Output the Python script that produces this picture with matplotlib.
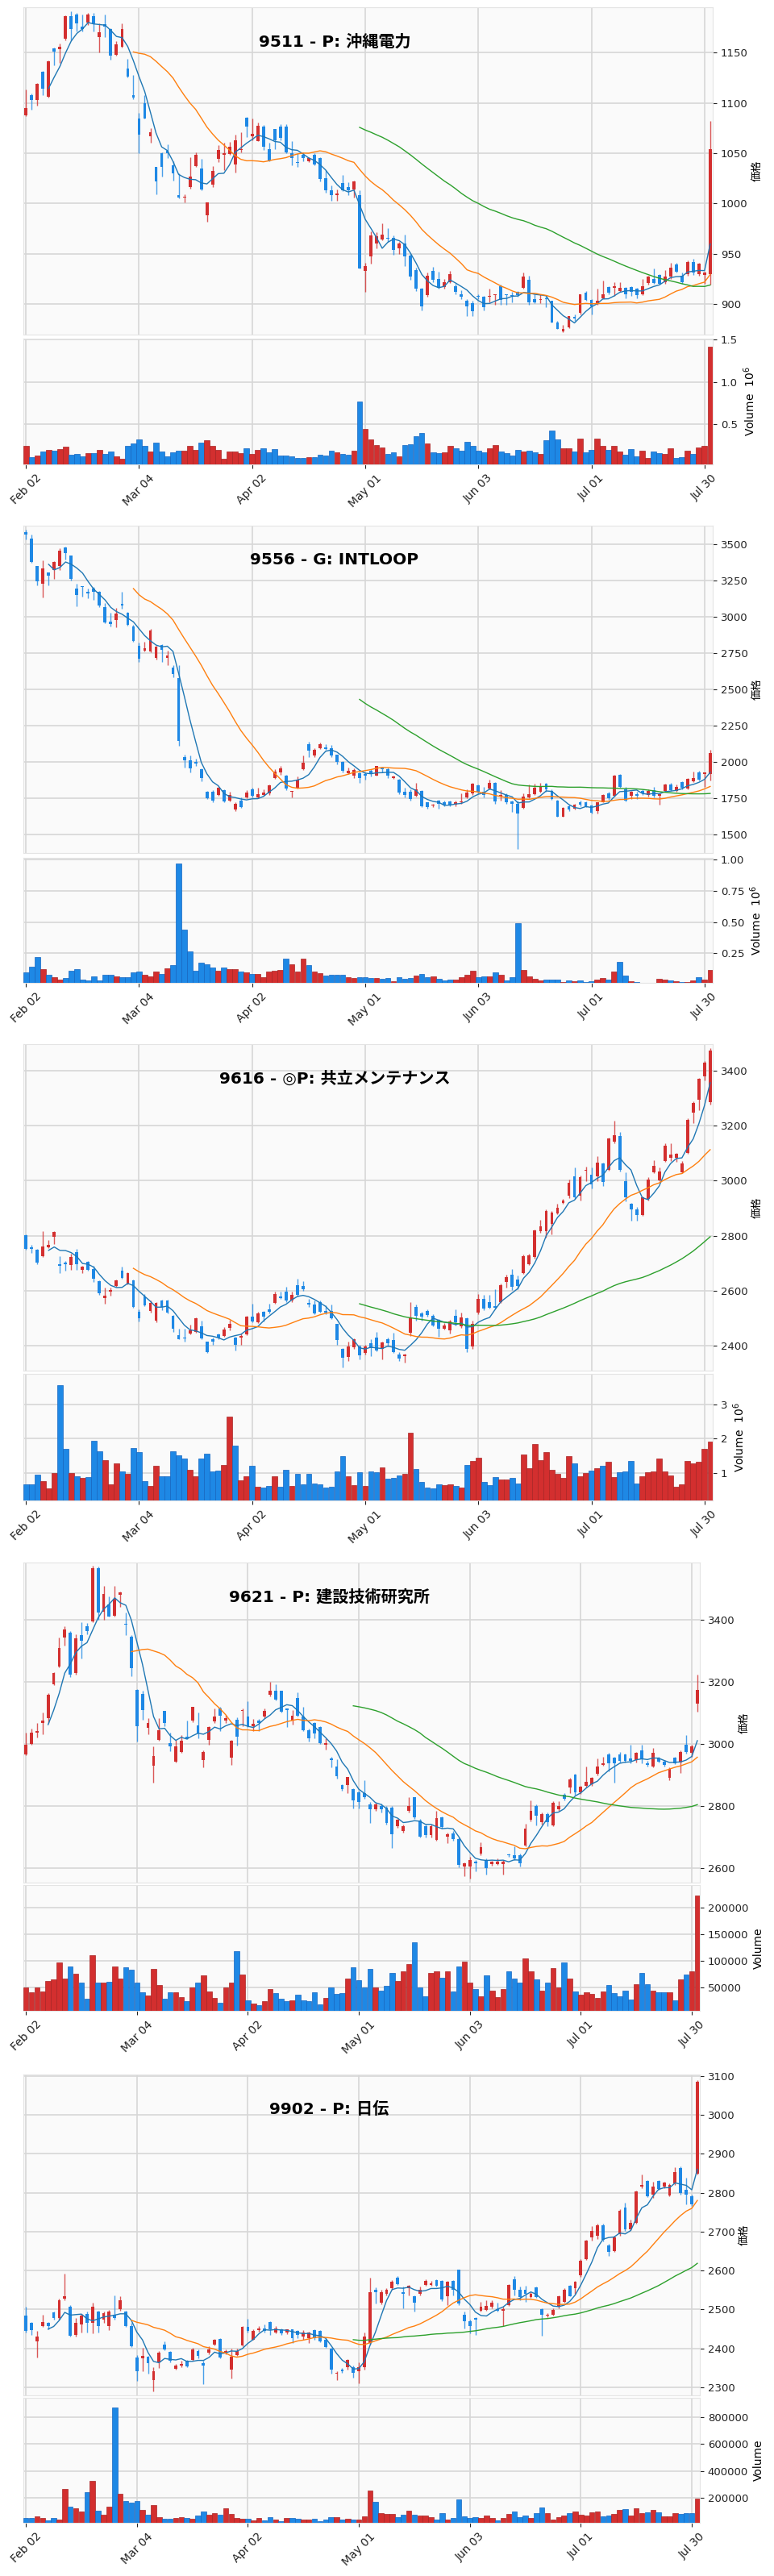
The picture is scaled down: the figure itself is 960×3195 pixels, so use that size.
import numpy as np
import pandas as pd
import matplotlib
matplotlib.use("Agg")
import matplotlib.pyplot as plt

plt.rcParams["font.family"] = ["DejaVu Sans", "Noto Sans CJK JP"]

DATE_POS = [0, 20, 40, 60, 80, 100, 120]
DATE_LABELS = ["Feb 02", "Mar 04", "Apr 02", "May 01", "Jun 03", "Jul 01", "Jul 30"]

# ---- 9511 沖縄電力 (volume in thousands of shares)
O_9511 = [1088, 1108, 1103, 1131, 1106, 1154, 1153, 1164, 1186, 1188, 1176, 1180, 1186, 1165, 1178, 1173, 1148, 1156, 1134, 1108,
          1084, 1100, 1067, 1036, 1050, 1052, 1038, 1008, 1006, 1016, 1037, 1035, 988, 1019, 1044, 1048, 1049, 1039, 1053, 1085,
          1067, 1062, 1076, 1054, 1074, 1076, 1076, 1050, 1041, 1048, 1042, 1048, 1045, 1025, 1013, 1008, 1020, 1016, 1014, 1008,
          933, 947, 960, 964, 966, 966, 955, 960, 948, 934, 915, 909, 933, 925, 917, 922, 918, 910, 903, 901,
          908, 907, 907, 909, 918, 910, 909, 912, 916, 924, 905, 904, 906, 903, 882, 873, 877, 887, 891, 911,
          904, 900, 906, 917, 916, 913, 916, 917, 915, 910, 921, 925, 929, 922, 927, 939, 928, 930, 942, 930, 929, 930]
H_9511 = [1113, 1109, 1120, 1132, 1142, 1155, 1159, 1187, 1191, 1189, 1188, 1189, 1189, 1179, 1188, 1174, 1161, 1179, 1144, 1128,
          1090, 1108, 1075, 1036, 1051, 1059, 1042, 1030, 1009, 1046, 1051, 1044, 1001, 1037, 1058, 1060, 1061, 1068, 1071, 1086,
          1084, 1080, 1078, 1060, 1074, 1079, 1079, 1062, 1050, 1051, 1046, 1050, 1046, 1033, 1018, 1014, 1028, 1021, 1023, 1013,
          941, 972, 971, 980, 975, 968, 962, 969, 950, 936, 916, 931, 937, 932, 925, 933, 920, 914, 905, 903,
          910, 908, 915, 910, 919, 910, 912, 913, 931, 928, 910, 910, 908, 903, 883, 879, 888, 890, 910, 913,
          905, 915, 923, 918, 922, 922, 917, 918, 916, 925, 928, 935, 930, 934, 941, 941, 931, 943, 945, 941, 932, 1082]
L_9511 = [1087, 1093, 1097, 1108, 1105, 1137, 1140, 1162, 1162, 1171, 1171, 1177, 1171, 1150, 1165, 1143, 1147, 1155, 1125, 1104,
          1050, 1084, 1060, 1009, 1027, 1045, 1023, 1005, 1001, 1015, 1036, 1013, 982, 1016, 1041, 1033, 1048, 1031, 1051, 1066,
          1063, 1062, 1053, 1042, 1054, 1063, 1050, 1038, 1036, 1042, 1041, 1038, 1022, 1011, 1003, 1003, 1012, 1008, 1006, 935,
          912, 940, 955, 963, 962, 949, 950, 938, 924, 913, 894, 907, 922, 915, 915, 921, 910, 905, 888, 888,
          905, 894, 902, 899, 899, 899, 902, 907, 915, 899, 901, 901, 897, 882, 875, 872, 876, 883, 890, 903,
          890, 899, 906, 910, 908, 912, 906, 908, 906, 909, 919, 920, 919, 920, 925, 931, 920, 928, 929, 928, 920, 919]
C_9511 = [1095, 1103, 1119, 1114, 1141, 1151, 1156, 1186, 1173, 1179, 1173, 1188, 1179, 1170, 1176, 1147, 1158, 1173, 1126, 1105,
          1068, 1084, 1071, 1022, 1036, 1050, 1030, 1006, 1007, 1027, 1048, 1014, 1001, 1032, 1053, 1050, 1056, 1063, 1054, 1076,
          1069, 1077, 1056, 1043, 1063, 1065, 1051, 1045, 1040, 1045, 1045, 1039, 1024, 1013, 1008, 1010, 1013, 1013, 1022, 935,
          938, 968, 967, 969, 965, 954, 960, 947, 927, 915, 898, 928, 924, 916, 922, 930, 912, 907, 898, 893,
          907, 897, 908, 910, 904, 909, 908, 909, 927, 902, 902, 905, 905, 882, 875, 875, 888, 886, 910, 904,
          898, 903, 910, 911, 918, 916, 910, 912, 909, 918, 927, 921, 920, 927, 936, 932, 922, 942, 931, 940, 931, 1054]
V_9511 = [241, 108, 136, 178, 196, 189, 203, 238, 143, 150, 119, 161, 161, 196, 154, 178, 126, 91, 248, 276,
          325, 248, 178, 283, 178, 126, 168, 189, 189, 248, 196, 283, 311, 248, 196, 91, 178, 178, 161, 220,
          150, 196, 213, 171, 203, 133, 133, 119, 101, 101, 108, 115, 143, 136, 185, 168, 150, 140, 189, 773,
          441, 318, 255, 224, 154, 168, 119, 255, 266, 364, 395, 273, 168, 161, 171, 241, 213, 189, 290, 248,
          185, 168, 220, 255, 178, 161, 136, 196, 178, 189, 168, 150, 308, 423, 318, 220, 220, 178, 329, 171,
          196, 329, 248, 196, 241, 178, 143, 206, 119, 185, 101, 178, 161, 154, 220, 101, 115, 185, 154, 231, 241, 1413]

# ---- 9556 INTLOOP
O_9556 = [3582, 3541, 3350, 3227, 3305, 3322, 3350, 3479, 3422, 3198, 3211, 3172, 3198, 3172, 3069, 2967, 2977, 3090, 3028, 2936,
          2803, 2768, 2762, 2721, 2809, 2719, 2653, 2577, 2038, 2013, 2001, 1951, 1798, 1798, 1777, 1808, 1736, 1675, 1736, 1757,
          1812, 1757, 1777, 1788, 1894, 1931, 1906, 1796, 1824, 1951, 2126, 2044, 2095, 2105, 2095, 2050, 2003, 1927, 1910, 1927,
          1921, 1941, 1910, 1962, 1951, 1890, 1880, 1798, 1798, 1767, 1804, 1722, 1700, 1736, 1722, 1730, 1710, 1722, 1757, 1788,
          1839, 1798, 1818, 1859, 1763, 1777, 1730, 1716, 1685, 1757, 1783, 1798, 1853, 1804, 1736, 1627, 1695, 1681, 1722, 1726,
          1701, 1664, 1726, 1788, 1767, 1914, 1812, 1771, 1783, 1804, 1777, 1808, 1771, 1804, 1849, 1804, 1863, 1818, 1869, 1931, 1921, 1921]
H_9556 = [3600, 3568, 3352, 3391, 3309, 3383, 3473, 3484, 3426, 3227, 3211, 3198, 3207, 3182, 3096, 3028, 3063, 3172, 3034, 2946,
          2823, 2829, 2920, 2803, 2813, 2768, 2669, 2669, 2054, 2044, 2023, 1956, 1804, 1808, 1833, 1812, 1798, 1722, 1757, 1808,
          1824, 1824, 1812, 1849, 1951, 1972, 1915, 1800, 1900, 2044, 2140, 2099, 2136, 2126, 2120, 2054, 2009, 1962, 1956, 1935,
          1931, 1951, 1976, 1962, 1962, 1910, 1886, 1824, 1812, 1859, 1808, 1726, 1716, 1742, 1736, 1736, 1736, 1785, 1812, 1859,
          1849, 1833, 1880, 1865, 1808, 1788, 1736, 1736, 1788, 1849, 1853, 1859, 1859, 1812, 1742, 1689, 1710, 1716, 1736, 1730,
          1706, 1726, 1783, 1798, 1914, 1921, 1828, 1804, 1798, 1812, 1812, 1828, 1788, 1853, 1859, 1849, 1869, 1890, 1935, 1941, 1931, 2085]
L_9556 = [3535, 3371, 3219, 3137, 3219, 3260, 3326, 3397, 3250, 3075, 3141, 3131, 3116, 3070, 2957, 2936, 2932, 3055, 2940, 2829,
          2690, 2762, 2756, 2707, 2690, 2669, 2588, 2116, 1962, 1931, 1972, 1870, 1746, 1722, 1767, 1722, 1730, 1661, 1685, 1750,
          1757, 1750, 1767, 1777, 1886, 1915, 1808, 1757, 1818, 1947, 2038, 2038, 2091, 2085, 2034, 1988, 1931, 1921, 1890, 1859,
          1880, 1900, 1906, 1931, 1890, 1886, 1783, 1757, 1736, 1763, 1689, 1681, 1689, 1681, 1695, 1695, 1695, 1716, 1750, 1777,
          1788, 1757, 1812, 1716, 1736, 1716, 1660, 1402, 1681, 1750, 1777, 1792, 1798, 1742, 1623, 1623, 1664, 1675, 1695, 1689,
          1648, 1648, 1722, 1742, 1763, 1824, 1730, 1746, 1746, 1777, 1763, 1757, 1710, 1798, 1804, 1798, 1812, 1812, 1865, 1874, 1833, 1874]
C_9556 = [3568, 3377, 3248, 3336, 3285, 3377, 3459, 3438, 3260, 3151, 3207, 3165, 3172, 3080, 2961, 2953, 3022, 3080, 2946, 2833,
          2714, 2786, 2905, 2797, 2772, 2735, 2608, 2146, 2013, 1956, 1993, 1890, 1750, 1736, 1824, 1730, 1777, 1716, 1689, 1792,
          1767, 1783, 1792, 1839, 1935, 1956, 1818, 1800, 1880, 1997, 2079, 2085, 2126, 2091, 2044, 2003, 1941, 1941, 1947, 1890,
          1906, 1921, 1972, 1952, 1906, 1900, 1792, 1777, 1746, 1812, 1695, 1689, 1710, 1716, 1706, 1706, 1726, 1730, 1792, 1853,
          1798, 1777, 1859, 1730, 1777, 1726, 1716, 1648, 1763, 1781, 1824, 1833, 1812, 1746, 1627, 1685, 1675, 1710, 1710, 1695,
          1654, 1722, 1777, 1750, 1906, 1833, 1736, 1798, 1771, 1788, 1804, 1767, 1783, 1845, 1808, 1828, 1824, 1886, 1890, 1880, 1931, 2064]
V_9556 = [100, 143, 221, 126, 75, 58, 41, 53, 107, 124, 39, 32, 63, 34, 75, 75, 66, 56, 56, 95,
          102, 78, 68, 102, 87, 129, 153, 973, 439, 265, 107, 175, 163, 138, 107, 136, 124, 124, 102, 100,
          83, 83, 58, 102, 107, 114, 206, 163, 102, 206, 155, 102, 90, 70, 78, 78, 75, 58, 53, 58,
          56, 51, 49, 46, 53, 27, 58, 46, 49, 70, 83, 58, 63, 46, 34, 41, 41, 58, 75, 109,
          58, 63, 63, 95, 78, 34, 58, 493, 119, 66, 46, 34, 39, 39, 41, 22, 34, 27, 34, 22,
          27, 39, 51, 39, 104, 184, 70, 29, 22, 15, 15, 15, 46, 39, 34, 27, 22, 22, 34, 58, 41, 119]

# ---- 9616 共立メンテナンス
O_9616 = [2802, 2759, 2750, 2726, 2759, 2795, 2696, 2703, 2694, 2741, 2677, 2705, 2680, 2636, 2574, 2598, 2618, 2674, 2625, 2638,
          2525, 2579, 2528, 2492, 2566, 2566, 2509, 2438, 2430, 2444, 2452, 2470, 2414, 2425, 2441, 2436, 2466, 2430, 2430, 2441,
          2506, 2485, 2525, 2533, 2557, 2579, 2596, 2564, 2620, 2618, 2557, 2550, 2560, 2528, 2528, 2479, 2390, 2360, 2395, 2398,
          2373, 2409, 2430, 2390, 2425, 2420, 2368, 2362, 2449, 2542, 2517, 2528, 2509, 2495, 2463, 2455, 2509, 2470, 2499, 2398,
          2520, 2571, 2560, 2544, 2560, 2633, 2658, 2642, 2665, 2698, 2723, 2817, 2817, 2842, 2882, 2918, 2945, 3016, 2945, 3035,
          3021, 3015, 3062, 3040, 3142, 3162, 2999, 2915, 2896, 2875, 2934, 3029, 3001, 3070, 3084, 3084, 3029, 3102, 3246, 3294, 3380, 3286]
H_9616 = [2804, 2766, 2752, 2817, 2785, 2817, 2726, 2707, 2734, 2752, 2690, 2709, 2690, 2638, 2611, 2611, 2641, 2687, 2668, 2641,
          2533, 2587, 2564, 2560, 2568, 2568, 2511, 2463, 2463, 2477, 2503, 2492, 2416, 2431, 2444, 2468, 2495, 2433, 2444, 2509,
          2553, 2523, 2528, 2553, 2596, 2596, 2614, 2596, 2644, 2636, 2571, 2566, 2566, 2546, 2550, 2481, 2392, 2414, 2427, 2405,
          2403, 2423, 2452, 2414, 2431, 2449, 2376, 2371, 2560, 2550, 2525, 2533, 2514, 2498, 2482, 2495, 2533, 2520, 2503, 2492,
          2587, 2585, 2585, 2607, 2625, 2658, 2680, 2655, 2733, 2736, 2823, 2858, 2896, 2891, 2915, 2935, 3005, 3048, 3018, 3051,
          3048, 3088, 3066, 3157, 3218, 3178, 3030, 2918, 2904, 2943, 3012, 3075, 3048, 3137, 3135, 3102, 3070, 3227, 3289, 3373, 3434, 3481]
L_9616 = [2750, 2739, 2698, 2724, 2756, 2770, 2665, 2674, 2676, 2676, 2665, 2674, 2633, 2585, 2553, 2582, 2615, 2644, 2622, 2539,
          2490, 2544, 2520, 2485, 2531, 2517, 2452, 2423, 2414, 2441, 2449, 2423, 2373, 2403, 2425, 2433, 2455, 2384, 2405, 2438,
          2485, 2482, 2488, 2517, 2553, 2571, 2560, 2560, 2579, 2601, 2542, 2514, 2520, 2514, 2496, 2403, 2322, 2344, 2390, 2351,
          2368, 2362, 2379, 2351, 2398, 2373, 2344, 2338, 2436, 2492, 2492, 2506, 2471, 2433, 2460, 2444, 2474, 2466, 2376, 2390,
          2514, 2531, 2536, 2536, 2557, 2612, 2603, 2607, 2661, 2693, 2717, 2812, 2793, 2806, 2878, 2915, 2937, 2934, 2929, 2999,
          2973, 2999, 2980, 3037, 3137, 3034, 2924, 2856, 2856, 2872, 2929, 3026, 2999, 3067, 3070, 3067, 3026, 3097, 3208, 3257, 3365, 3275]
C_9616 = [2752, 2753, 2701, 2761, 2768, 2813, 2691, 2698, 2723, 2696, 2688, 2677, 2644, 2590, 2583, 2604, 2638, 2647, 2663, 2542,
          2501, 2546, 2557, 2557, 2542, 2520, 2463, 2425, 2427, 2457, 2501, 2427, 2376, 2414, 2430, 2460, 2479, 2403, 2436, 2506,
          2488, 2517, 2506, 2523, 2587, 2574, 2566, 2585, 2585, 2607, 2550, 2517, 2523, 2520, 2499, 2420, 2358, 2398, 2423, 2365,
          2398, 2392, 2384, 2412, 2409, 2376, 2355, 2368, 2503, 2509, 2506, 2512, 2474, 2463, 2474, 2490, 2485, 2503, 2390, 2481,
          2571, 2535, 2539, 2539, 2620, 2650, 2615, 2618, 2726, 2730, 2820, 2834, 2891, 2885, 2902, 2929, 2991, 2940, 3012, 3038,
          2986, 3066, 2994, 3153, 3164, 3040, 2940, 2896, 2875, 2940, 3005, 3053, 3032, 3127, 3094, 3097, 3064, 3221, 3283, 3370, 3430, 3474]
V_9616 = [680, 680, 940, 770, 540, 1000, 3560, 1690, 1000, 910, 850, 880, 1940, 1630, 1370, 680, 1270, 1040, 970, 1730,
          1600, 770, 620, 1200, 900, 910, 1640, 1520, 1410, 1090, 900, 1430, 1570, 1050, 1070, 1240, 2630, 1790, 790, 900,
          1200, 600, 580, 620, 910, 600, 1100, 620, 980, 670, 980, 700, 660, 570, 590, 1040, 1500, 910, 640, 1030,
          620, 1040, 1010, 1170, 840, 850, 920, 980, 2170, 1110, 740, 570, 550, 670, 640, 660, 620, 570, 1220, 1340,
          1440, 730, 640, 870, 810, 810, 850, 700, 1540, 1140, 1840, 1370, 1610, 1090, 970, 850, 1480, 1270, 910, 1000,
          1070, 1140, 1210, 1330, 870, 1030, 1050, 1360, 700, 900, 1030, 1050, 1430, 1050, 920, 610, 660, 1340, 1280, 1330, 1690, 1900]

# ---- 9621 建設技術研究所
O_9621 = [2966, 3000, 3036, 3069, 3084, 3194, 3249, 3343, 3360, 3228, 3350, 3381, 3395, 3568, 3427, 3451, 3414, 3480, 3388, 3347,
          3175, 3161, 3053, 2930, 3014, 3106, 3002, 2944, 2976, 3024, 3075, 3060, 2950, 3014, 3074, 3115, 3077, 2957, 3079, 3106,
          3088, 3059, 3075, 3088, 3158, 3171, 3171, 3115, 3077, 3149, 3088, 3046, 3069, 3055, 2998, 2955, 2928, 2868, 2868, 2856,
          2845, 2842, 2806, 2791, 2800, 2796, 2796, 2735, 2720, 2785, 2828, 2754, 2735, 2706, 2692, 2764, 2701, 2713, 2695, 2605,
          2605, 2621, 2648, 2626, 2614, 2614, 2614, 2645, 2642, 2642, 2674, 2756, 2801, 2748, 2775, 2738, 2790, 2838, 2860, 2902,
          2844, 2865, 2870, 2904, 2934, 2968, 2957, 2968, 2968, 2955, 2950, 2981, 2939, 2928, 2955, 2944, 2891, 2957, 2942, 2997, 2971, 3130]
H_9621 = [3038, 3050, 3067, 3101, 3163, 3232, 3343, 3379, 3363, 3355, 3393, 3391, 3574, 3571, 3510, 3475, 3510, 3491, 3424, 3350,
          3178, 3173, 3084, 2992, 3084, 3108, 3036, 3014, 3028, 3075, 3120, 3101, 2981, 3059, 3115, 3120, 3094, 3014, 3086, 3115,
          3139, 3082, 3082, 3115, 3200, 3194, 3173, 3115, 3110, 3168, 3120, 3050, 3072, 3059, 3019, 2960, 2952, 2871, 2895, 2858,
          2849, 2885, 2813, 2812, 2808, 2800, 2800, 2760, 2740, 2830, 2830, 2758, 2740, 2740, 2786, 2768, 2715, 2720, 2700, 2620,
          2636, 2626, 2685, 2632, 2625, 2632, 2626, 2648, 2670, 2648, 2743, 2818, 2806, 2780, 2780, 2815, 2817, 2842, 2891, 2904,
          2866, 2929, 2895, 2955, 2960, 2971, 2960, 2975, 2970, 2997, 2975, 2997, 2946, 2987, 2960, 2950, 2925, 2960, 2980, 3030, 2999, 3225]
L_9621 = [2964, 2998, 3021, 3031, 3067, 3190, 3247, 3317, 3216, 3225, 3276, 3355, 3393, 3401, 3401, 3410, 3410, 3441, 3350, 3219,
          3009, 3079, 3031, 2875, 3011, 3058, 2978, 2942, 2973, 3017, 3072, 3019, 2925, 2998, 3067, 3041, 3067, 2933, 2995, 3058,
          3055, 3042, 3042, 3084, 3153, 3142, 3101, 3056, 3062, 3089, 3043, 3009, 3019, 3001, 2983, 2925, 2889, 2849, 2842, 2794,
          2794, 2825, 2746, 2785, 2780, 2740, 2665, 2730, 2715, 2780, 2760, 2700, 2700, 2700, 2690, 2728, 2680, 2690, 2603, 2575,
          2568, 2590, 2642, 2580, 2608, 2610, 2580, 2638, 2628, 2605, 2670, 2752, 2738, 2740, 2735, 2735, 2786, 2818, 2841, 2838,
          2840, 2860, 2865, 2900, 2930, 2912, 2876, 2940, 2942, 2938, 2940, 2938, 2928, 2925, 2940, 2928, 2885, 2935, 2908, 2970, 2960, 3105]
C_9621 = [2998, 3036, 3043, 3077, 3160, 3230, 3309, 3369, 3225, 3341, 3334, 3365, 3568, 3424, 3484, 3412, 3468, 3489, 3384, 3245,
          3059, 3110, 3069, 2962, 3046, 3069, 2992, 2992, 3011, 3019, 3120, 3034, 2976, 3055, 3089, 3091, 3084, 3010, 3024, 3110,
          3059, 3065, 3067, 3106, 3171, 3144, 3104, 3110, 3091, 3091, 3046, 3019, 3034, 3004, 3004, 2950, 2896, 2854, 2893, 2818,
          2813, 2829, 2791, 2806, 2790, 2745, 2711, 2756, 2735, 2801, 2764, 2703, 2706, 2735, 2762, 2733, 2711, 2695, 2610, 2616,
          2626, 2616, 2669, 2600, 2621, 2621, 2621, 2642, 2632, 2616, 2727, 2786, 2770, 2775, 2748, 2812, 2801, 2823, 2886, 2844,
          2862, 2879, 2891, 2928, 2939, 2939, 2939, 2946, 2946, 2946, 2971, 2955, 2934, 2971, 2944, 2934, 2921, 2939, 2976, 2974, 2992, 3175]
V_9621 = [50.6, 41.8, 50, 42.3, 62.6, 64.8, 96.7, 66.5, 89, 76.4, 58.8, 29.7, 111, 59.9, 59.9, 61, 90.1, 66.5, 88.5, 83,
          58.8, 40.7, 35.2, 84.6, 55.5, 28.6, 41.8, 40.7, 32.4, 24.2, 50.6, 58.8, 72.5, 43.4, 30.8, 22.5, 50.6, 58.8, 119, 74.7,
          26.4, 19.8, 17.6, 25.3, 47.8, 39.6, 29.7, 25.3, 26.9, 36.8, 25.8, 25.3, 41.8, 18.7, 30.8, 50, 39, 39.6, 66.5, 88.5,
          64.3, 50.6, 85.7, 51, 45, 54, 78, 63, 81, 94, 135, 51, 34, 77, 81, 69, 80, 43, 89, 98,
          60, 47, 34, 73, 45, 32, 48, 81, 67, 60, 104, 80, 65, 45, 59, 86, 51, 97, 67, 43,
          37, 42, 39, 31, 43, 55, 40, 34, 44, 28, 57, 77, 56, 45, 42, 42, 42, 26, 65, 75, 81, 222]

# ---- 9902 日伝
O_9902 = [2484, 2465, 2418, 2458, 2465, 2492, 2478, 2527, 2507, 2435, 2461, 2489, 2465, 2495, 2473, 2458, 2486, 2500, 2495, 2458,
          2376, 2374, 2379, 2319, 2363, 2410, 2390, 2347, 2355, 2368, 2370, 2393, 2362, 2389, 2410, 2424, 2389, 2346, 2382, 2407,
          2455, 2423, 2446, 2452, 2467, 2441, 2448, 2440, 2448, 2444, 2431, 2427, 2446, 2444, 2423, 2399, 2335, 2346, 2351, 2351,
          2342, 2351, 2414, 2550, 2517, 2540, 2554, 2582, 2545, 2554, 2534, 2540, 2562, 2562, 2575, 2573, 2534, 2573, 2602, 2486,
          2469, 2477, 2497, 2499, 2506, 2501, 2497, 2512, 2577, 2551, 2551, 2531, 2556, 2501, 2484, 2486, 2506, 2520, 2560, 2554,
          2588, 2630, 2685, 2690, 2717, 2664, 2651, 2694, 2761, 2706, 2723, 2816, 2831, 2795, 2831, 2816, 2793, 2825, 2863, 2808, 2791, 2850]
H_9902 = [2507, 2467, 2444, 2486, 2467, 2495, 2528, 2592, 2511, 2478, 2489, 2495, 2517, 2497, 2495, 2499, 2537, 2534, 2497, 2465,
          2382, 2401, 2381, 2351, 2393, 2418, 2393, 2359, 2368, 2370, 2401, 2397, 2368, 2406, 2424, 2427, 2397, 2399, 2399, 2458,
          2475, 2448, 2457, 2462, 2469, 2457, 2452, 2450, 2450, 2446, 2446, 2443, 2450, 2446, 2427, 2401, 2342, 2350, 2372, 2355,
          2363, 2440, 2582, 2556, 2550, 2554, 2575, 2585, 2558, 2562, 2537, 2558, 2577, 2573, 2577, 2575, 2573, 2575, 2602, 2495,
          2473, 2481, 2520, 2524, 2524, 2518, 2506, 2565, 2585, 2558, 2560, 2545, 2558, 2503, 2490, 2503, 2537, 2554, 2562, 2573,
          2630, 2680, 2715, 2720, 2720, 2668, 2689, 2757, 2774, 2731, 2806, 2848, 2833, 2829, 2833, 2829, 2825, 2865, 2867, 2838, 2795, 3090]
L_9902 = [2441, 2435, 2376, 2455, 2450, 2473, 2474, 2524, 2430, 2431, 2440, 2440, 2438, 2440, 2465, 2446, 2474, 2497, 2455, 2404,
          2317, 2342, 2336, 2289, 2350, 2395, 2365, 2345, 2351, 2351, 2368, 2374, 2308, 2385, 2408, 2374, 2385, 2323, 2380, 2405,
          2441, 2421, 2443, 2440, 2435, 2438, 2435, 2437, 2414, 2427, 2423, 2414, 2423, 2416, 2401, 2334, 2318, 2338, 2346, 2325,
          2311, 2346, 2410, 2515, 2514, 2537, 2550, 2563, 2503, 2537, 2495, 2537, 2560, 2560, 2558, 2522, 2511, 2537, 2511, 2452,
          2438, 2435, 2495, 2497, 2503, 2495, 2458, 2509, 2537, 2524, 2520, 2529, 2529, 2433, 2481, 2484, 2503, 2518, 2533, 2541,
          2584, 2628, 2678, 2682, 2675, 2638, 2647, 2690, 2702, 2703, 2720, 2812, 2789, 2787, 2808, 2812, 2791, 2821, 2795, 2770, 2766, 2846]
C_9902 = [2444, 2446, 2431, 2468, 2458, 2478, 2524, 2534, 2433, 2465, 2484, 2465, 2507, 2457, 2490, 2495, 2478, 2524, 2457, 2406,
          2342, 2380, 2362, 2342, 2389, 2397, 2368, 2355, 2359, 2353, 2398, 2380, 2355, 2397, 2421, 2376, 2393, 2379, 2393, 2455,
          2444, 2444, 2452, 2444, 2450, 2452, 2438, 2448, 2427, 2435, 2441, 2441, 2427, 2418, 2404, 2346, 2338, 2342, 2370, 2338,
          2351, 2431, 2545, 2545, 2545, 2550, 2571, 2565, 2541, 2560, 2517, 2551, 2573, 2568, 2560, 2526, 2571, 2550, 2516, 2469,
          2458, 2473, 2506, 2510, 2518, 2497, 2501, 2562, 2550, 2531, 2541, 2541, 2531, 2486, 2487, 2499, 2533, 2550, 2534, 2571,
          2626, 2678, 2702, 2717, 2680, 2647, 2685, 2753, 2706, 2723, 2804, 2821, 2791, 2816, 2810, 2827, 2821, 2853, 2799, 2795, 2770, 3085]
V_9902 = [47, 47, 62, 47, 30, 47, 38, 265, 134, 120, 96, 241, 326, 103, 74, 134, 870, 231, 176, 163,
          176, 108, 71, 146, 54, 42, 42, 47, 54, 47, 42, 67, 96, 71, 84, 74, 120, 79, 47, 42,
          42, 30, 47, 30, 54, 35, 23, 47, 47, 42, 35, 35, 42, 23, 35, 54, 54, 35, 42, 38,
          35, 62, 255, 168, 86, 79, 79, 54, 71, 103, 71, 67, 67, 54, 38, 86, 38, 47, 188, 62,
          50, 54, 47, 67, 47, 30, 47, 79, 96, 54, 67, 47, 84, 127, 84, 38, 54, 67, 84, 96,
          71, 67, 91, 96, 59, 67, 79, 108, 115, 67, 122, 84, 91, 108, 91, 59, 59, 86, 79, 86, 86, 193]

W, H = 960, 3195
UP, DOWN = "#d32f2f", "#1e88e5"
UP_EDGE, DOWN_EDGE = "#a82424", "#1565c0"
MA_COLORS = {5: "#1f77b4", 20: "#ff7f0e", 60: "#2ca02c"}
FACE, GRID = "#fafafa", "#d6d6d6"

# volumes above are in thousands; millions panels get the 10^6 label
panels = [
    dict(title="9511 - P: 沖縄電力", data=(O_9511, H_9511, L_9511, C_9511, V_9511),
         pt=9, pb=415, vt=420, vb=576, right=884, tx=415,
         ylim=(869.6, 1195), yticks=list(range(900, 1151, 50)),
         millions=True, vlim=(0.027, 1.51), vticks=[0.5, 1.0, 1.5], vlabels=["0.5", "1.0", "1.5"]),
    dict(title="9556 - G: INTLOOP", data=(O_9556, H_9556, L_9556, C_9556, V_9556),
         pt=652, pb=1058, vt=1064, vb=1219, right=884, tx=415,
         ylim=(1375, 3629), yticks=list(range(1500, 3501, 250)),
         millions=True, vlim=(0.013, 1.016), vticks=[0.25, 0.5, 0.75, 1.0],
         vlabels=["0.25", "0.50", "0.75", "1.00"]),
    dict(title="9616 - ◎P: 共立メンテナンス", data=(O_9616, H_9616, L_9616, C_9616, V_9616),
         pt=1295, pb=1700, vt=1704, vb=1861, right=884, tx=415,
         ylim=(2310, 3496), yticks=list(range(2400, 3401, 200)),
         millions=True, vlim=(0.2, 3.88), vticks=[1, 2, 3], vlabels=["1", "2", "3"]),
    dict(title="9621 - P: 建設技術研究所", data=(O_9621, H_9621, L_9621, C_9621, V_9621),
         pt=1938, pb=2335, vt=2338, vb=2494, right=868, tx=408,
         ylim=(2554, 3585), yticks=list(range(2600, 3401, 200)),
         millions=False, vlim=(6700, 242000), vticks=[50000, 100000, 150000, 200000],
         vlabels=["50000", "100000", "150000", "200000"]),
    dict(title="9902 - P: 日伝", data=(O_9902, H_9902, L_9902, C_9902, V_9902),
         pt=2573, pb=2971, vt=2974, vb=3129, right=868, tx=408,
         ylim=(2279, 3104), yticks=list(range(2300, 3101, 100)),
         millions=False, vlim=(13000, 945000), vticks=[200000, 400000, 600000, 800000],
         vlabels=["200000", "400000", "600000", "800000"]),
]


def px_box(x0, y0, x1, y1):
    return [x0 / W, 1 - y1 / H, (x1 - x0) / W, (y1 - y0) / H]


def style_axes(ax):
    ax.set_facecolor(FACE)
    ax.grid(True, color=GRID, lw=1.2)
    ax.set_axisbelow(True)
    ax.yaxis.tick_right()
    ax.yaxis.set_label_position("right")
    for s in ax.spines.values():
        s.set_color("#e4e4e4")
    ax.tick_params(axis="y", labelsize=9.5, colors="#222222")


fig = plt.figure(figsize=(W / 100, H / 100), dpi=100)

for p in panels:
    o, h, l, c, v = (np.asarray(a, dtype=float) for a in p["data"])
    x = np.arange(len(c))
    up = c >= o
    cols = np.where(up, UP, DOWN)
    edges = np.where(up, UP_EDGE, DOWN_EDGE)

    ax = fig.add_axes(px_box(29.4, p["pt"], p["right"], p["pb"]))
    axv = fig.add_axes(px_box(29.4, p["vt"], p["right"], p["vb"]), sharex=ax)
    style_axes(ax)
    style_axes(axv)

    # candles
    lo, hi = p["ylim"]
    ax.vlines(x, l, h, colors=cols, lw=1.0, alpha=0.8, zorder=2)
    body = np.maximum(np.abs(c - o), (hi - lo) * 0.003)
    ax.bar(x, body, 0.55, bottom=np.minimum(o, c), color=cols, lw=0, zorder=3)

    close = pd.Series(c)
    for win, col in MA_COLORS.items():
        ax.plot(x, close.rolling(win).mean(), color=col, lw=1.0, zorder=4)

    ax.set_ylim(lo, hi)
    ax.set_yticks(p["yticks"])
    ax.set_ylabel("価格", fontsize=9.5)
    ax.set_xlim(-0.4, 121.45)
    ax.set_xticks(DATE_POS)
    ax.tick_params(axis="x", labelbottom=False, length=0)

    # volume
    vol = v / 1000.0 if p["millions"] else v * 1000.0
    axv.bar(x, vol, 0.95, color=cols, edgecolor=edges, lw=0.5, zorder=3)
    axv.set_ylim(*p["vlim"])
    axv.set_yticks(p["vticks"], p["vlabels"])
    axv.set_ylabel("Volume  $10^{6}$" if p["millions"] else "Volume", fontsize=10)
    axv.set_xticks(DATE_POS, DATE_LABELS)
    axv.tick_params(axis="x", labelsize=10, rotation=45, colors="#222222")
    for t in axv.get_xticklabels():
        t.set_ha("center")

    fig.text(p["tx"] / W, 1 - (p["pt"] + 43) / H, p["title"], ha="center", va="center",
             fontsize=14.5, fontweight="bold", family=["DejaVu Sans", "Noto Sans CJK JP"])

fig.savefig("out.png", dpi=100)
